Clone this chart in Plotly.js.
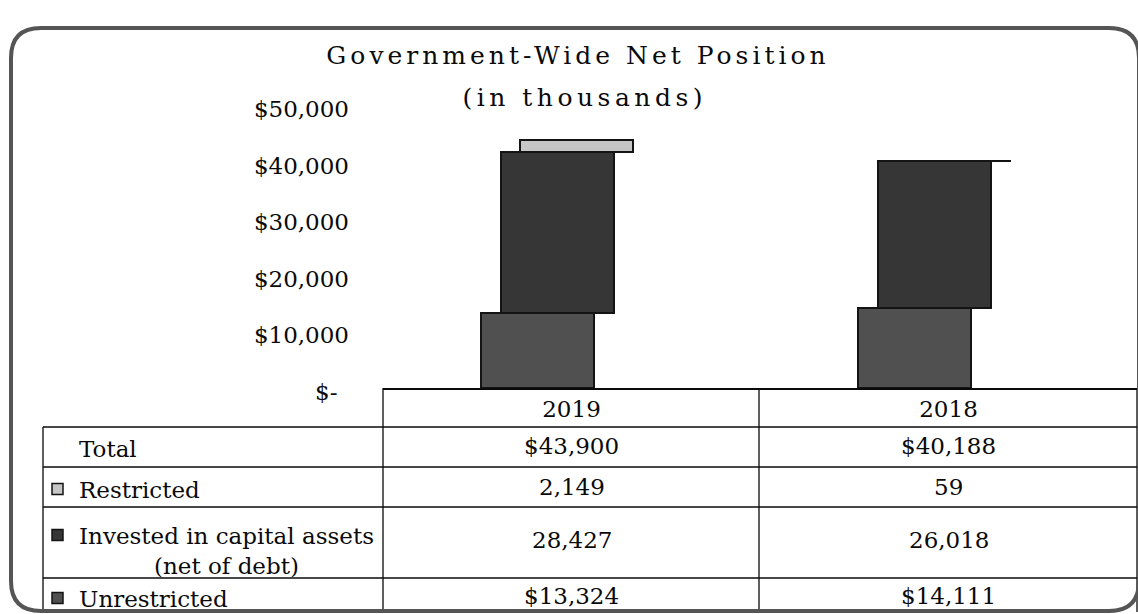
<!DOCTYPE html>
<html>
<head>
<meta charset="utf-8">
<script src="https://cdn.plot.ly/plotly-3.0.1.min.js"></script>
<style>
  html, body { margin: 0; padding: 0; background: #fff; }
  #chart { width: 1138px; height: 614px; }
  .gtitle { letter-spacing: 4px; }
  .annotation[data-index="0"] text { letter-spacing: 4.5px; }
</style>
</head>
<body>
<div id="chart"></div>
<script>
// ---- data ----
const categories = ["2019", "2018"];
const unrestricted = [13324, 14111];
const invested = [28427, 26018];
const restricted = [2149, 59];
const totals = [43900, 40188];
const yTickVals = [0, 10000, 20000, 30000, 40000, 50000];
const yTickText = ["$-\u2002", "$10,000", "$20,000", "$30,000", "$40,000", "$50,000"];
const rowLabels = ["Total", "Restricted", "Invested in capital assets<br>(net of debt)", "Unrestricted"];
const titleLine1 = "Government-Wide Net Position";
const titleLine2 = "(in thousands)";

// ---- layout helpers (pixel -> paper) ----
const W = 1138, H = 614;
const L = 383, R = 1137, T = 80, B = 388;
const px = x => (x - L) / (R - L);
const py = y => (B - y) / (B - T);
const FONT = "DejaVu Serif";
const INK = "#0a0a0a";

const barW = 0.3;
const traces = [
  { name: "Unrestricted", y: unrestricted, color: "#505050", offset: -0.24 },
  { name: "Invested in capital assets (net of debt)", y: invested, color: "#363636", offset: -0.187 },
  { name: "Restricted", y: restricted, color: "#c6c6c6", offset: -0.137 }
].map(s => ({
  type: "bar", x: categories, y: s.y, name: s.name,
  offset: s.offset, width: barW,
  marker: { color: s.color, line: { color: "#141414", width: 2 } },
  hoverinfo: "skip", showlegend: false
}));

// ---- table ----
const shapes = [];
const line = (x0, y0, x1, y1, w) => shapes.push({
  type: "line", xref: "paper", yref: "paper",
  x0: px(x0), y0: py(y0), x1: px(x1), y1: py(y1),
  line: { color: INK, width: w || 1.3 }
});
[427, 467, 507, 578].forEach(y => line(43, y, 1137, y));
line(43, 427, 43, 612);
line(383, 388, 383, 612);
line(759, 388, 759, 612);
line(1137, 388, 1137, 612);

// rounded outer border
(function () {
  const x0 = 11, x1 = 1139, y0 = 28, y1 = 611, r = 30;
  const P = (x, y) => px(x) + "," + py(y);
  const d = "M" + P(x0 + r, y0) + " L" + P(x1 - r, y0) + " Q" + P(x1, y0) + " " + P(x1, y0 + r) +
    " L" + P(x1, y1 - r) + " Q" + P(x1, y1) + " " + P(x1 - r, y1) +
    " L" + P(x0 + r, y1) + " Q" + P(x0, y1) + " " + P(x0, y1 - r) +
    " L" + P(x0, y0 + r) + " Q" + P(x0, y0) + " " + P(x0 + r, y0) + " Z";
  shapes.push({ type: "path", xref: "paper", yref: "paper", path: d,
    line: { color: "#555", width: 4 } });
})();

// legend keys in table
const keyColors = [null, "#c6c6c6", "#363636", "#505050"];
const rowY = [446, 487, 540, 596];
const keyY = [null, 489, 535, 598];
keyColors.forEach((c, r) => {
  if (!c) return;
  shapes.push({ type: "rect", xref: "paper", yref: "paper",
    x0: px(52), x1: px(63), y0: py(keyY[r] - 5.5), y1: py(keyY[r] + 5.5),
    fillcolor: c, line: { color: "#141414", width: 1.5 } });
});

const annotations = [];
annotations.push({
  text: titleLine2, xref: "paper", yref: "paper", x: px(585), y: py(97),
  xanchor: "center", yanchor: "middle", showarrow: false,
  font: { family: FONT, size: 25, color: INK }
});

const fmt = v => v.toLocaleString("en-US");
const rowValues = [
  totals.map(v => "$" + fmt(v)),
  restricted.map(fmt),
  invested.map(fmt),
  unrestricted.map(v => "$" + fmt(v))
];
rowLabels.forEach((lab, r) => {
  annotations.push({
    text: lab, xref: "paper", yref: "paper", x: px(77), y: py(r === 2 ? 551 : rowY[r] + 3),
    xanchor: "left", yanchor: "middle", align: "center", showarrow: false,
    font: { family: FONT, size: 23, color: INK }
  });
  categories.forEach((c, i) => {
    annotations.push({
      text: rowValues[r][i], xref: "x", yref: "paper", x: i, y: py(rowY[r]),
      xanchor: "center", yanchor: "middle", showarrow: false,
      font: { family: FONT, size: 23, color: INK }
    });
  });
});

const layout = {
  width: W, height: H,
  margin: { l: L, r: W - R, t: T, b: H - B, pad: 0 },
  paper_bgcolor: "#fff", plot_bgcolor: "rgba(0,0,0,0)",
  barmode: "stack",
  title: {
    text: titleLine1, x: 578 / W, xref: "container", xanchor: "center",
    y: 1 - 55 / H, yref: "container", yanchor: "middle",
    font: { family: FONT, size: 25, color: INK }
  },
  xaxis: {
    type: "category", categoryorder: "array", categoryarray: categories,
    range: [-0.5, 1.5], showgrid: false, zeroline: false,
    showline: true, linecolor: INK, linewidth: 1.5, ticks: "",
    tickfont: { family: FONT, size: 23, color: INK }, fixedrange: true
  },
  yaxis: {
    range: [0, (B - T) / 5.66 * 1000], tickvals: yTickVals, ticktext: yTickText,
    showgrid: false, zeroline: false, showline: false, ticks: "",
    ticklabelstandoff: 33, ticklabelshift: 4,
    tickfont: { family: FONT, size: 23, color: INK }, fixedrange: true
  },
  shapes: shapes,
  annotations: annotations,
  showlegend: false
};

Plotly.newPlot("chart", traces, layout, { displayModeBar: false, staticPlot: true });
</script>
</body>
</html>
